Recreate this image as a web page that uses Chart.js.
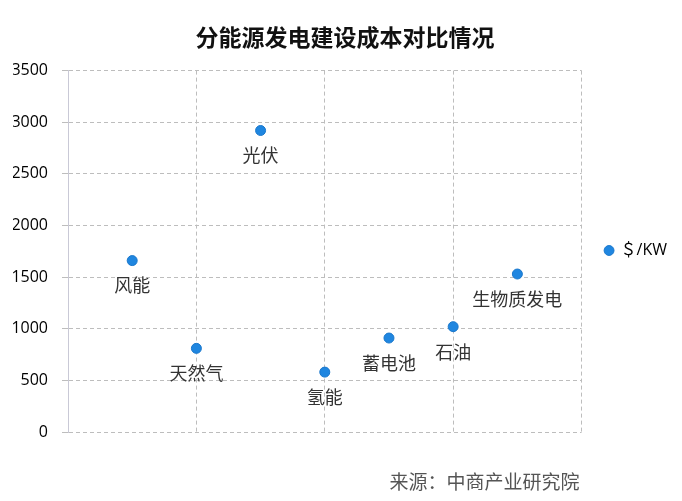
<!DOCTYPE html>
<html>
<head>
<meta charset="utf-8">
<script src="https://cdn.jsdelivr.net/npm/chart.js@4/dist/chart.umd.min.js"></script>
<style>
  html, body { margin: 0; padding: 0; background: #fff; }
  #wrap { width: 682px; height: 501px; }
</style>
</head>
<body>
<div id="wrap"><canvas id="my-chart" width="682" height="501"></canvas></div>
<script>
'use strict';

// ******* DATA *******
let categories = ['风能', '天然气', '光伏', '氢能', '蓄电池', '石油', '生物质发电'];
let xPositions = [1, 2, 3, 4, 5, 6, 7];
let costValues = [1660, 810, 2920, 580, 910, 1020, 1530];
let yTickMin = 0;
let yTickMax = 3500;
let yTickStep = 500;
let seriesName = '＄/KW';
let chartTitle = '分能源发电建设成本对比情况';
let sourceText = '来源：中商产业研究院';

let gridColor = '#bdbdbd';
let pointColor = '#1f86e0';

// ******* PLUGINS *******
// label under each point, placed from the point element position
let pointLabels = {
  id: 'pointLabels',
  afterDatasetsDraw(chart) {
    let ctx = chart.ctx;
    let meta = chart.getDatasetMeta(0);
    ctx.save();
    ctx.font = '18px "Noto Sans CJK SC"';
    ctx.fillStyle = '#333333';
    ctx.textAlign = 'center';
    ctx.textBaseline = 'middle';
    meta.data.forEach((pt, i) => {
      ctx.fillText(categories[i], pt.x, pt.y + 25);
    });
    ctx.restore();
  }
};

let sourceNote = {
  id: 'sourceNote',
  afterDraw(chart) {
    let ctx = chart.ctx;
    ctx.save();
    ctx.font = '19px "Noto Sans CJK SC"';
    ctx.fillStyle = '#555555';
    ctx.textAlign = 'right';
    ctx.textBaseline = 'middle';
    ctx.fillText(sourceText, chart.chartArea.right - 2, 482);
    ctx.restore();
  }
};

// ******* CHART *******
let canvasElem = document.getElementById('my-chart').getContext('2d');

let myChartObj = {
  type: 'scatter',
  data: {
    datasets: [{
      label: seriesName,
      data: xPositions.map((x, i) => ({ x: x, y: costValues[i] })),
      backgroundColor: pointColor,
      borderColor: '#1b78cc',
      borderWidth: 1,
      pointRadius: 5,
      pointHoverRadius: 5
    }]
  },
  options: {
    responsive: false,
    animation: false,
    layout: { padding: { top: 0, right: 5, bottom: 0, left: 13 } },
    plugins: {
      tooltip: { enabled: false },
      title: {
        display: true,
        text: chartTitle,
        color: '#111111',
        font: { family: '"Noto Sans CJK SC"', size: 23, weight: 'bold' },
        padding: { top: 23, bottom: 20 }
      },
      legend: {
        position: 'right',
        labels: {
          usePointStyle: true,
          pointStyle: 'circle',
          boxWidth: 7,
          boxHeight: 7,
          color: '#000000',
          font: { family: '"Open Sans", "Noto Sans CJK SC"', size: 16 },
          padding: 24
        }
      }
    },
    scales: {
      x: {
        type: 'linear',
        min: 0,
        max: 8,
        ticks: { display: false, stepSize: 2 },
        grid: { color: gridColor, drawTicks: false },
        border: { display: false, dash: [4, 3] },
        afterFit(scale) { scale.height = 69; }
      },
      y: {
        min: yTickMin,
        max: yTickMax,
        ticks: {
          stepSize: yTickStep,
          color: '#000000',
          padding: 14,
          font: { family: '"Open Sans"', size: 16 },
          callback: (value) => String(value)
        },
        grid: { color: gridColor, tickLength: 6 },
        border: { display: true, color: '#c9c9d6', width: 1, dash: [4, 3] },
        afterFit(scale) { scale.width = 55; }
      }
    }
  },
  plugins: [pointLabels, sourceNote]
};

new Chart(canvasElem, myChartObj);
</script>
</body>
</html>
